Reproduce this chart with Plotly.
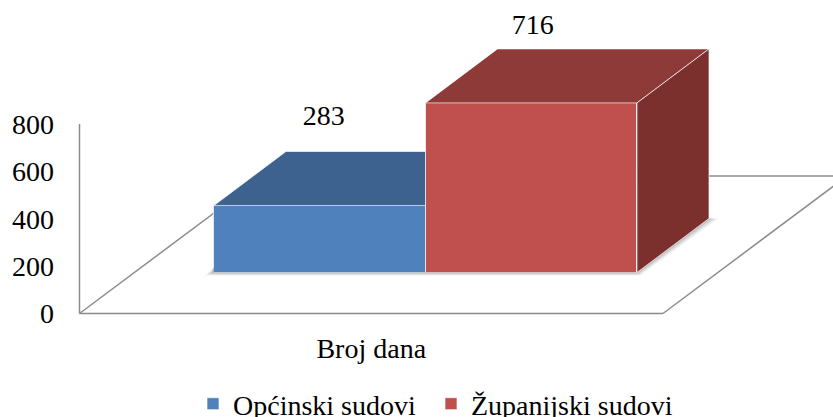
import plotly.graph_objects as go

# data
category_label = "Broj dana"
series_names = ["Općinski sudovi", "Županijski sudovi"]
series_values = [283, 716]
y_ticks = [0, 200, 400, 600, 800]
front_colors = ["#4F81BD", "#C0504D"]
top_colors = ["#3E628F", "#8E3A39"]
side_colors = ["#2F4C70", "#7B302E"]

# oblique projection settings
W, H = 833, 417
PLOT_L, PLOT_B = 70, 320          # plot-area edges in page pixels
ZERO_PX, PX_PER_UNIT = 313.5, 189.5 / 800   # y axis scale
SLOT_PX, SLOT_CENTER_PX = 423, 425.5        # width of the category slot
BAR_BASE = 41 / PX_PER_UNIT       # bars stand this far back on the floor
DX, DY = 72 / SLOT_PX, 54 / PX_PER_UNIT     # bar depth
FLOOR_DX, FLOOR_DY = 184 / SLOT_PX, 137.5 / PX_PER_UNIT  # floor depth
FLOOR_L = (79.5 - SLOT_CENTER_PX) / SLOT_PX
FLOOR_R = (663 - SLOT_CENTER_PX) / SLOT_PX
LABEL_LIFT = [370, 320]
LABEL_SHIFT = [4 / SLOT_PX, 1.5 / SLOT_PX]
BAR_W = 0.5
FONT = "Liberation Serif"

x_range = [(PLOT_L - SLOT_CENTER_PX) / SLOT_PX, (W - SLOT_CENTER_PX) / SLOT_PX]
y_range = [(ZERO_PX - PLOT_B) / PX_PER_UNIT, ZERO_PX / PX_PER_UNIT]

fig = go.Figure()

def poly(xs, ys, color, line="rgba(255,255,255,0)", width=0):
    fig.add_trace(go.Scatter(
        x=xs + xs[:1], y=ys + ys[:1], mode="lines", fill="toself", fillcolor=color,
        line=dict(color=line, width=width), hoverinfo="skip", showlegend=False))

EDGE = "rgba(255,255,255,0.65)"

# soft shadows on the floor, under the front and side faces
for i, val in enumerate(series_values):
    x0 = -BAR_W + i * BAR_W
    x1 = x0 + BAR_W
    for grow, alpha in [(3.0, 0.10), (2.0, 0.14), (1.0, 0.20)]:
        g_x, g_y = grow / SLOT_PX, grow / PX_PER_UNIT
        if i == 0:
            poly([x0 - 3 * g_x, x0, x0, x1, x1, x0 - 1.5 * g_x],
                 [BAR_BASE - g_y, BAR_BASE + 5 / PX_PER_UNIT, BAR_BASE, BAR_BASE, BAR_BASE - g_y, BAR_BASE - g_y],
                 f"rgba(90,90,90,{alpha})")
        else:
            poly([x0, x1, x1 + DX, x1 + DX + 3 * g_x, x1 + g_x, x0],
                 [BAR_BASE, BAR_BASE, BAR_BASE + DY, BAR_BASE + DY, BAR_BASE - g_y, BAR_BASE - g_y],
                 f"rgba(90,90,90,{alpha})")

# front faces
for i, (name, val) in enumerate(zip(series_names, series_values)):
    fig.add_trace(go.Bar(
        x=[0], y=[val], base=[BAR_BASE], name=name, offsetgroup=str(i),
        legend="legend" if i == 0 else "legend2",
        marker=dict(color=front_colors[i], line=dict(color=EDGE, width=1)),
        hoverinfo="skip"))

# top and side faces
for i, val in enumerate(series_values):
    x0 = -BAR_W + i * BAR_W
    x1 = x0 + BAR_W
    top = BAR_BASE + val
    nxt = series_values[i + 1] if i + 1 < len(series_values) else None
    if nxt is not None and nxt > val:
        # the next, taller bar hides the rest of the top face
        poly([x0, x0 + DX, x1, x1], [top, top + DY, top + DY, top], top_colors[i], EDGE, 1)
    else:
        poly([x0, x0 + DX, x1 + DX, x1], [top, top + DY, top + DY, top], top_colors[i], EDGE, 1)
        poly([x1, x1 + DX, x1 + DX, x1], [BAR_BASE, BAR_BASE + DY, top + DY, top], side_colors[i], EDGE, 1)

# value labels
for i, val in enumerate(series_values):
    fig.add_trace(go.Scatter(
        x=[-BAR_W / 2 + i * BAR_W + LABEL_SHIFT[i]], y=[BAR_BASE + val + LABEL_LIFT[i]],
        mode="text", text=[str(val)], textposition="middle center",
        textfont=dict(family=FONT, size=28, color="#000000"),
        hoverinfo="skip", showlegend=False, cliponaxis=False))

GRID = "#8C8C8C"
floor_top = FLOOR_DY
shapes = [
    dict(type="line", x0=FLOOR_L, x1=FLOOR_L, y0=0, y1=y_ticks[-1]),
    dict(type="line", x0=FLOOR_L, x1=FLOOR_R, y0=0, y1=0),
    dict(type="line", x0=FLOOR_L, x1=FLOOR_L + FLOOR_DX, y0=0, y1=floor_top),
    dict(type="line", x0=FLOOR_L + FLOOR_DX, x1=x_range[1], y0=floor_top, y1=floor_top),
    dict(type="line", x0=FLOOR_R, x1=FLOOR_R + FLOOR_DX * 1.25, y0=0, y1=FLOOR_DY * 1.25),
]
for s in shapes:
    s.update(xref="x", yref="y", layer="below", line=dict(color=GRID, width=1.5))

LEGEND_Y = (PLOT_B - 404) / PLOT_B
def legend_at(px):
    return dict(orientation="h", x=(px - PLOT_L) / (W - PLOT_L), y=LEGEND_Y,
                xanchor="left", yanchor="middle", bgcolor="rgba(0,0,0,0)",
                font=dict(family=FONT, size=28))

fig.update_layout(
    width=W, height=H, autosize=False,
    margin=dict(l=PLOT_L, r=0, t=0, b=H - PLOT_B, pad=0, autoexpand=False),
    paper_bgcolor="white", plot_bgcolor="white",
    barmode="group", bargap=0, bargroupgap=0, shapes=shapes,
    font=dict(family=FONT, color="#000000"),
    xaxis=dict(range=x_range, showgrid=False, zeroline=False, showline=False,
               tickmode="array", tickvals=[(FLOOR_L + FLOOR_R) / 2], ticktext=[category_label],
               ticks="", ticklabelstandoff=9, tickfont=dict(family=FONT, size=28)),
    yaxis=dict(range=y_range, showgrid=False, zeroline=False, showline=False,
               tickmode="array", tickvals=y_ticks, ticktext=[str(t) for t in y_ticks],
               ticks="", ticklabelstandoff=15, tickfont=dict(family=FONT, size=28)),
    legend=legend_at(193),
    legend2=legend_at(431),
)

fig.write_html("out.html", config=dict(displayModeBar=False, responsive=False),
               post_script="document.body.style.margin='0';")
